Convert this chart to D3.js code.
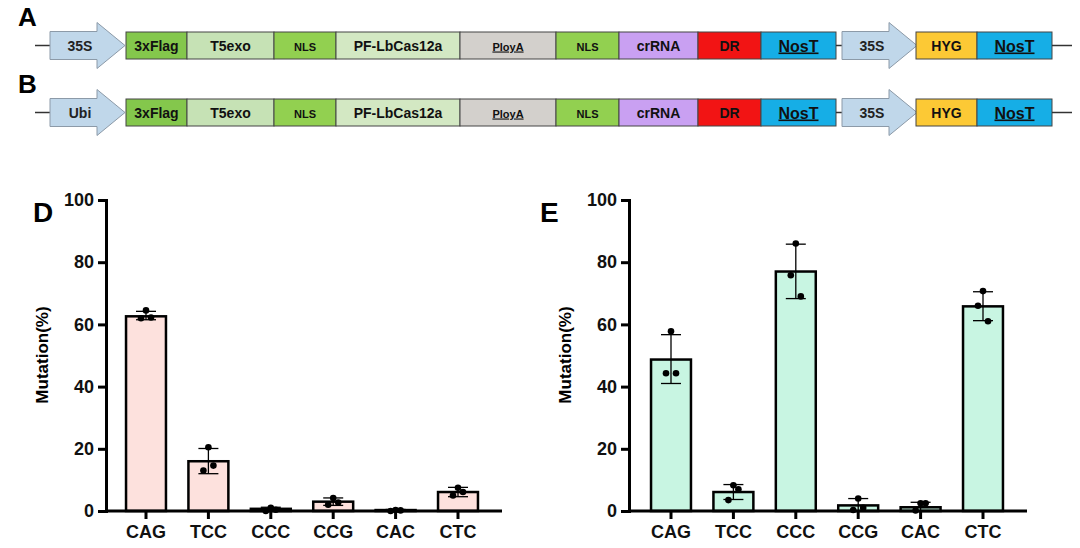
<!DOCTYPE html>
<html><head><meta charset="utf-8">
<script src="https://cdn.jsdelivr.net/npm/d3@7"></script>
<style>body{margin:0;background:#fff}svg{display:block;font-family:"Liberation Sans",Arial,sans-serif}</style>
</head><body><svg id="fig" width="1080" height="548"></svg>
<script>
// construct parts (label, width share) and colours
const partNames = ["3xFlag", "T5exo", "NLS", "PF-LbCas12a", "PloyA", "NLS", "crRNA", "DR", "NosT"];
const partEdges = [126, 187, 274, 336, 460, 556, 619, 698, 761, 836];
const partColors = ["#84c74c", "#c6e2b5", "#92d050", "#d3e8c3", "#d3d0cc", "#92d050", "#c9a0f2", "#f21414", "#16aee6"];
const tailNames = ["HYG", "NosT"];
const tailEdges = [916, 977, 1052];
const tailColors = ["#fcc935", "#16aee6"];
const promoters = ["35S", "Ubi"];

// bar data
const categories = ["CAG", "TCC", "CCC", "CCG", "CAC", "CTC"];
const yTicks = [0, 20, 40, 60, 80, 100];
const dMeans = [62.6, 16, 0.7, 3, 0.3, 6.1];
const dLow = [61.5, 12, 0, 1.8, 0, 4.6];
const dHigh = [64.2, 20.1, 1.2, 4.2, 0.5, 7.6];
const dPoints = [[64.5, 62, 62.2], [20.5, 13, 14.6], [1, 0, 0.4], [4.2, 2, 2.7], [0.3, 0, 0.2], [7.5, 5, 6.1]];
const eMeans = [48.7, 6.1, 77, 1.8, 1.2, 65.8];
const eLow = [41, 3.7, 68.3, 0, 0, 61.2];
const eHigh = [56.7, 8.5, 85.8, 4, 2.8, 70.5];
const ePoints = [[57.8, 44.3, 44.3], [8.3, 3.5, 7], [86, 75.8, 69], [4, 0.3, 1], [2.5, 0.2, 2.5], [70.7, 66, 61]];

const svg = d3.select("#fig");

function arrow(g, x0, cy, label) {
  // body x0..x0+47, head to x0+75
  const p = `M${x0},${cy - 14} L${x0 + 47},${cy - 14} L${x0 + 47},${cy - 23} L${x0 + 75},${cy} L${x0 + 47},${cy + 23} L${x0 + 47},${cy + 14} L${x0},${cy + 14} Z`;
  g.append("path").attr("d", p).attr("fill", "#c0d7ea").attr("stroke", "#8c9aa8").attr("stroke-width", 1);
  g.append("text").attr("x", x0 + 30).attr("y", cy + 5).attr("text-anchor", "middle")
    .attr("font-size", 14).attr("font-weight", "bold").attr("fill", "#222").text(label);
}

function boxes(g, edges, names, colors, y, h) {
  names.forEach((n, i) => {
    g.append("rect").attr("x", edges[i]).attr("y", y).attr("width", edges[i + 1] - edges[i]).attr("height", h)
      .attr("fill", colors[i]).attr("stroke", "#444").attr("stroke-width", 1);
    const small = n === "NLS" || n === "PloyA";
    const big = n === "NosT";
    const t = g.append("text").attr("x", (edges[i] + edges[i + 1]) / 2).attr("y", y + h / 2 + (big ? 6 : 5))
      .attr("text-anchor", "middle").attr("font-weight", "bold").attr("fill", "#111")
      .attr("font-size", small ? 11 : big ? 16 : 14).text(n);
    if (big || n === "PloyA") t.attr("text-decoration", "underline");
  });
}

function construct(row, y, letter) {
  const g = svg.append("g");
  const h = 27, cy = y + h / 2;
  g.append("text").attr("x", 18).attr("y", y - 6).attr("font-size", 26).attr("font-weight", "bold").text(letter);
  g.append("line").attr("x1", 35).attr("x2", 50).attr("y1", cy).attr("y2", cy).attr("stroke", "#333").attr("stroke-width", 1.5);
  arrow(g, 50, cy, promoters[row]);
  boxes(g, partEdges, partNames, partColors, y, h);
  g.append("line").attr("x1", 836).attr("x2", 842).attr("y1", cy).attr("y2", cy).attr("stroke", "#333").attr("stroke-width", 1.5);
  arrow(g, 842, cy, "35S");
  boxes(g, tailEdges, tailNames, tailColors, y, h);
  g.append("line").attr("x1", 1052).attr("x2", 1072).attr("y1", cy).attr("y2", cy).attr("stroke", "#333").attr("stroke-width", 1.5);
}
construct(0, 32, "A");
construct(1, 99, "B");

function barChart(opt) {
  const g = svg.append("g");
  const x = d3.scaleBand().domain(categories).range(opt.band).paddingInner(0.36).paddingOuter(0.18);
  const y = d3.scaleLinear().domain([0, 100]).range([511, 200]);
  g.append("text").attr("x", opt.letterX).attr("y", 222).attr("font-size", 28).attr("font-weight", "bold").text(opt.letter);
  const bw = x.bandwidth();
  categories.forEach((c, i) => {
    const cx = x(c) + bw / 2;
    g.append("rect").attr("x", x(c)).attr("y", y(opt.means[i])).attr("width", bw)
      .attr("height", y(0) - y(opt.means[i])).attr("fill", opt.fill).attr("stroke", "#000").attr("stroke-width", 2.5);
    g.append("line").attr("x1", cx).attr("x2", cx).attr("y1", y(opt.low[i])).attr("y2", y(opt.high[i])).attr("stroke", "#000").attr("stroke-width", 1.3);
    [opt.low[i], opt.high[i]].forEach(v => g.append("line").attr("x1", cx - 10).attr("x2", cx + 10)
      .attr("y1", y(v)).attr("y2", y(v)).attr("stroke", "#000").attr("stroke-width", 1.3));
    const offs = [0, -5, 5];
    opt.points[i].forEach((v, k) => g.append("circle").attr("cx", cx + offs[k])
      .attr("cy", y(v)).attr("r", 3.3).attr("fill", "#000"));
  });
  const ya = g.append("g").attr("transform", `translate(${opt.x0},0)`)
    .call(d3.axisLeft(y).tickValues(yTicks).tickSize(8).tickPadding(4));
  const xa = g.append("g").attr("transform", `translate(0,${y(0)})`)
    .call(d3.axisBottom(x).tickSize(8).tickPadding(6));
  xa.select(".domain").attr("d", `M${opt.x0},0H${opt.x1}`);
  [ya, xa].forEach(a => {
    a.selectAll("path,line").attr("stroke", "#000").attr("stroke-width", 3);
    a.selectAll("text").attr("font-size", 18).attr("font-weight", "bold").attr("fill", "#111")
      .attr("font-family", "Liberation Sans, Arial, sans-serif");
  });
  g.append("text").attr("transform", `translate(${opt.x0 - 58},355) rotate(-90)`).attr("text-anchor", "middle")
    .attr("font-size", 17).attr("font-weight", "bold").text("Mutation(%)");
}

barChart({ x0: 106, x1: 502, band: [114.8, 489.2], letter: "D", letterX: 33, fill: "#fde1dd", means: dMeans, low: dLow, high: dHigh, points: dPoints });
barChart({ x0: 629, x1: 1027, band: [639.8, 1014.2], letter: "E", letterX: 540, fill: "#c8f5e2", means: eMeans, low: eLow, high: eHigh, points: ePoints });
</script></body></html>
